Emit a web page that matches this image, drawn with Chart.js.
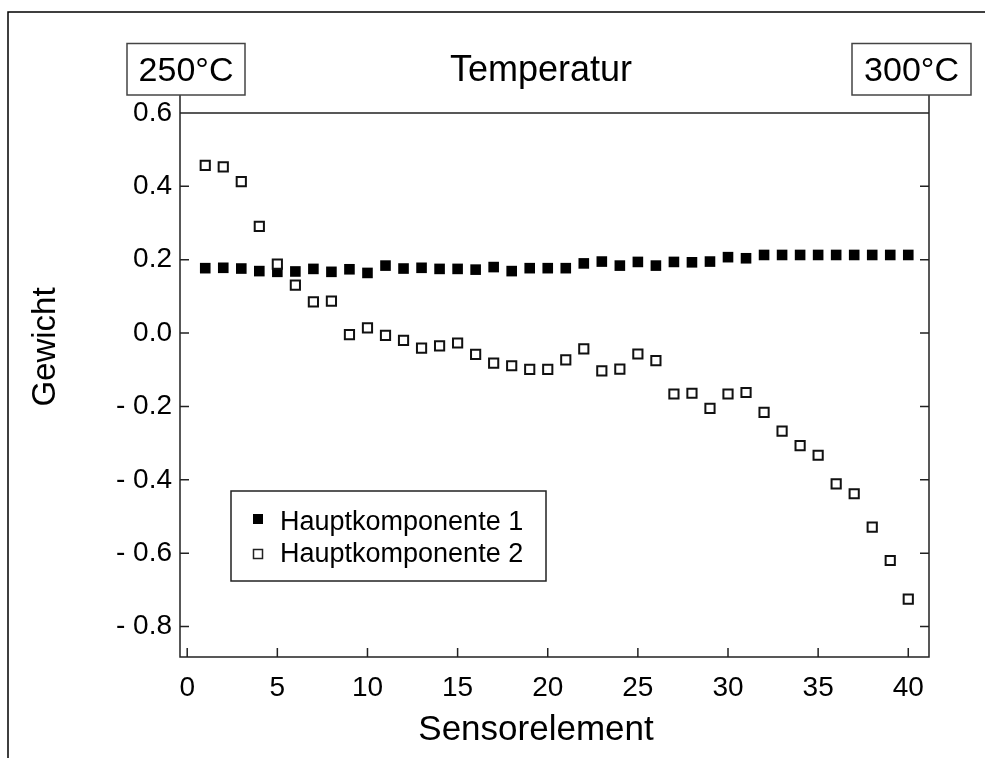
<!DOCTYPE html>
<html>
<head>
<meta charset="utf-8">
<script src="https://cdn.jsdelivr.net/npm/chart.js@4.4.1/dist/chart.umd.min.js"></script>
<style>
  html, body { margin: 0; padding: 0; background: #fff; }
  canvas { display: block; }
</style>
</head>
<body>
<canvas id="scatterChart" width="985" height="758"></canvas>
<script>
var sensors = [1, 2, 3, 4, 5, 6, 7, 8, 9, 10,
               11, 12, 13, 14, 15, 16, 17, 18, 19, 20,
               21, 22, 23, 24, 25, 26, 27, 28, 29, 30,
               31, 32, 33, 34, 35, 36, 37, 38, 39, 40];
// Hauptkomponente 1 (filled squares)
var hk1 = [0.177, 0.178, 0.176, 0.169, 0.167, 0.168, 0.175, 0.167, 0.174, 0.164,
           0.184, 0.176, 0.178, 0.175, 0.175, 0.173, 0.180, 0.169, 0.177, 0.177,
           0.177, 0.190, 0.195, 0.184, 0.194, 0.184, 0.194, 0.193, 0.195, 0.207,
           0.204, 0.213, 0.213, 0.213, 0.213, 0.213, 0.213, 0.213, 0.213, 0.213];
// Hauptkomponente 2 (open squares)
var hk2 = [0.457, 0.453, 0.413, 0.291, 0.188, 0.131, 0.085, 0.087, -0.004, 0.014,
           -0.006, -0.020, -0.041, -0.035, -0.027, -0.058, -0.082, -0.089, -0.099, -0.099,
           -0.073, -0.043, -0.103, -0.098, -0.057, -0.075, -0.166, -0.164, -0.205, -0.166,
           -0.162, -0.216, -0.267, -0.307, -0.333, -0.411, -0.438, -0.529, -0.620, -0.725];
var xTicks = [0, 5, 10, 15, 20, 25, 30, 35, 40];
var yTicks = [0.6, 0.4, 0.2, 0, -0.2, -0.4, -0.6, -0.8];
var seriesNames = ['Hauptkomponente 1', 'Hauptkomponente 2'];
var tempLabels = ['250°C', '300°C'];
var chartTitle = 'Temperatur';
var xTitle = 'Sensorelement';
var yTitle = 'Gewicht';

var fontFamily = '"Liberation Sans", Arial, Helvetica, sans-serif';

function toPoints(values) {
  return sensors.map(function (x, i) { return { x: x, y: values[i] }; });
}

// frame, inward ticks, temperature boxes, titles and legend box
var decorations = {
  id: 'decorations',
  beforeDraw: function (chart) {
    var ctx = chart.ctx;
    ctx.save();
    ctx.fillStyle = '#fff';
    ctx.fillRect(0, 0, chart.width, chart.height);
    ctx.strokeStyle = '#000';
    ctx.lineWidth = 1.5;
    ctx.beginPath();
    ctx.moveTo(8, 758);
    ctx.lineTo(8, 12);
    ctx.lineTo(985, 12);
    ctx.stroke();
    ctx.restore();
  },
  afterDraw: function (chart) {
    var ctx = chart.ctx, a = chart.chartArea;
    var xs = chart.scales.x, ys = chart.scales.y;
    ctx.save();
    ctx.strokeStyle = '#222';
    ctx.lineWidth = 1.5;
    ctx.beginPath();
    ctx.moveTo(a.left, 95); ctx.lineTo(a.left, a.bottom);
    ctx.lineTo(a.right, a.bottom); ctx.lineTo(a.right, 95);
    ctx.moveTo(a.left, a.top); ctx.lineTo(a.right, a.top);
    xTicks.forEach(function (v) {
      var px = xs.getPixelForValue(v);
      ctx.moveTo(px, a.bottom); ctx.lineTo(px, a.bottom - 9);
    });
    yTicks.forEach(function (v) {
      var py = ys.getPixelForValue(v);
      ctx.moveTo(a.left, py); ctx.lineTo(a.left + 9, py);
      ctx.moveTo(a.right, py); ctx.lineTo(a.right - 9, py);
    });
    ctx.stroke();

    // temperature boxes + title
    ctx.strokeStyle = '#444';
    ctx.strokeRect(127, 43.5, 118, 51.5);
    ctx.strokeRect(852, 43.5, 119, 51.5);
    ctx.fillStyle = '#000';
    ctx.textAlign = 'center';
    ctx.textBaseline = 'alphabetic';
    ctx.font = '34px ' + fontFamily;
    ctx.fillText(tempLabels[0], 186, 81);
    ctx.fillText(tempLabels[1], 911.5, 81);
    ctx.font = '36px ' + fontFamily;
    ctx.fillText(chartTitle, 541, 81);

    // axis titles
    ctx.font = '35px ' + fontFamily;
    ctx.fillText(xTitle, 536, 740);
    ctx.save();
    ctx.translate(55, 347);
    ctx.rotate(-Math.PI / 2);
    ctx.font = '33px ' + fontFamily;
    ctx.fillText(yTitle, 0, 0);
    ctx.restore();

    // legend
    ctx.strokeStyle = '#222';
    ctx.strokeRect(231, 491, 315, 90);
    ctx.fillStyle = '#000';
    ctx.fillRect(253, 514, 10, 10);
    ctx.lineWidth = 1.5;
    ctx.strokeRect(253.5, 549.5, 9, 9);
    ctx.textAlign = 'left';
    ctx.font = '27px ' + fontFamily;
    ctx.fillText(seriesNames[0], 280, 530);
    ctx.fillText(seriesNames[1], 280, 562);
    ctx.restore();
  }
};

var ctx = document.getElementById('scatterChart').getContext('2d');
var myChart = new Chart(ctx, {
  type: 'scatter',
  data: {
    datasets: [{
      label: seriesNames[0],
      data: toPoints(hk1),
      pointStyle: 'rect',
      pointRadius: 7.5,
      backgroundColor: '#000',
      borderColor: '#000',
      borderWidth: 0,
      order: 1
    }, {
      label: seriesNames[1],
      data: toPoints(hk2),
      pointStyle: 'rect',
      pointRadius: 6.5,
      backgroundColor: '#fff',
      borderColor: '#111',
      borderWidth: 2,
      order: 0
    }]
  },
  options: {
    responsive: false,
    animation: false,
    layout: { padding: { left: 0, right: 56, top: 113, bottom: 0 } },
    plugins: {
      legend: { display: false },
      tooltip: { enabled: false }
    },
    scales: {
      x: {
        type: 'linear',
        min: -0.4,
        max: 41.15,
        afterBuildTicks: function (s) { s.ticks = xTicks.map(function (v) { return { value: v }; }); },
        afterFit: function (s) { s.height = 101; },
        grid: { display: false, drawTicks: false },
        border: { display: false },
        ticks: {
          padding: 14, color: '#000', maxRotation: 0, autoSkip: false,
          font: { family: fontFamily, size: 28 }
        }
      },
      y: {
        min: -0.883,
        max: 0.6,
        afterBuildTicks: function (s) { s.ticks = yTicks.map(function (v) { return { value: v }; }); },
        afterFit: function (s) { s.width = 180; },
        grid: { display: false, drawTicks: false },
        border: { display: false },
        ticks: {
          padding: 8, color: '#000', autoSkip: false,
          font: { family: fontFamily, size: 28 },
          callback: function (v) {
            return v < -0.0001 ? '- ' + Math.abs(v).toFixed(1) : Math.abs(v).toFixed(1);
          }
        }
      }
    }
  },
  plugins: [decorations]
});
</script>
</body>
</html>
